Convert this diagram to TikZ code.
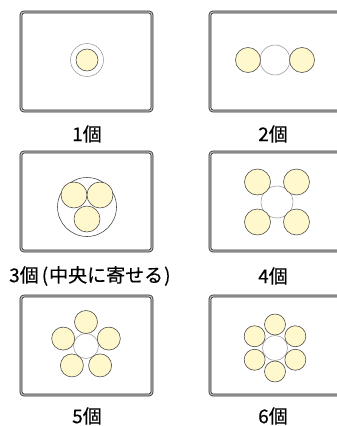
\documentclass[tikz,border=0pt]{standalone}
\usepackage{fontspec}
\newfontfamily\jpfont{Noto Sans CJK JP}[FakeBold=0.4]
\usetikzlibrary{calc}
\definecolor{ballyellow}{HTML}{FFF8CC}

\begin{document}
\begin{tikzpicture}[x=1pt,y=-1pt,
    frame/.style={draw=black!85, double=gray!50, double distance=1.2pt, line width=0.75pt, rounded corners=3pt},
    ball/.style={draw=black!75, fill=ballyellow, line width=0.55pt},
    hole/.style={draw=gray!80, fill=white, line width=0.55pt},
    caption/.style={font=\jpfont\fontsize{19}{19}\selectfont, inner sep=0pt}]
\useasboundingbox (0,0) rectangle (337,426);
\clip (0,0) rectangle (337,426);

\foreach \x in {21,210}
    \foreach \y in {12,152,296}{
        \draw[frame] (\x,\y) rectangle ++(131,99);
    }

% one
\draw[gray!85, line width=0.5pt] (87,60) circle (16.5);
\draw[ball] (87,60) circle (11);
% two
\draw[hole] (275,60) circle (15);
\draw[ball] (248,60) circle (12.5);
\draw[ball] (302,60) circle (12.5);
% three
\draw[black!75, line width=0.55pt] (87,207) circle (29.5);
\draw[ball] (74,195) circle (13);
\draw[ball] (100,195) circle (13);
\draw[ball] (87,219) circle (13);
% four
\draw[hole] (277,202) circle (16);
\foreach \dx in {-19.5,19.5}
    \foreach \dy in {-20,20}{
        \draw[ball] ($(277,202)+(\dx,\dy)$) circle (13);
    }
% five
\draw[hole] (86,346) circle (12.5);
\foreach \a in {-90,-18,54,126,198}
    \draw[ball] ($(86,346)+(\a:24)$) circle (11.5);
% six
\draw[hole] (275,348) circle (12.5);
\foreach \a in {-90,-30,...,210}
    \draw[ball] ($(275,348)+(\a:23.5)$) circle (10.5);

\node[caption] (lone) at (87,134) {1個};
\node[caption] (ltwo) at (273,134) {2個};
\node[caption, anchor=west] (lthree) at (9,276) {3個\hspace{3pt}(\hspace{1pt}中央に寄せる\hspace{1pt})};
\node[caption] (lfour) at (273,276) {4個};
\node[caption] (lfive) at (87,416) {5個};
\node[caption] (lsix) at (273,416) {6個};

\end{tikzpicture}
\end{document}
